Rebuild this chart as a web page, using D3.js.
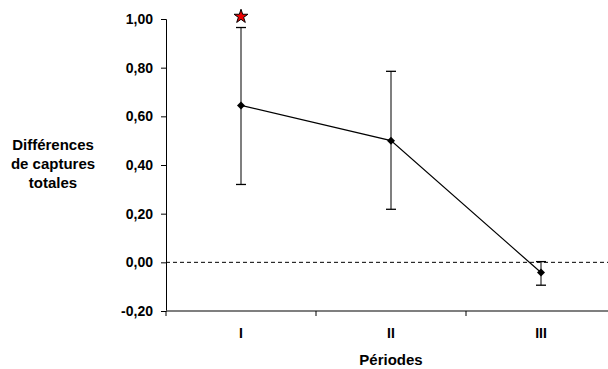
<!DOCTYPE html>
<html lang="fr">
<head>
<meta charset="utf-8">
<title></title>
<style>
  body { margin: 0; background: #fff; }
  text { font-family: Arial, "Liberation Sans", sans-serif; font-weight: bold; }
</style>
<script src="https://d3js.org/d3.v7.min.js"></script>
</head>
<body>
<svg id="chart" width="608" height="369"></svg>
<script>
// data
var periods = ["I", "II", "III"];
var means = [0.645, 0.50, -0.042];
var upper = [0.965, 0.785, 0.003];
var lower = [0.32, 0.218, -0.094];
var signif = [true, false, false];
var yTicks = [-0.2, 0, 0.2, 0.4, 0.6, 0.8, 1.0];

var svg = d3.select("#chart");

var x = d3.scaleBand().domain(periods).range([166, 616]);
var y = d3.scaleLinear().domain([-0.2, 1.0]).range([311, 19]);

var fmt = function(d) { return d3.format(".2f")(d).replace(".", ",").replace("−", "-"); };

// y axis
var yAxis = svg.append("g")
  .attr("transform", "translate(166,0)")
  .call(d3.axisLeft(y).tickValues(yTicks).tickFormat(fmt).tickSize(5).tickPadding(8));
yAxis.selectAll("text").style("font-size", "14px").attr("fill", "#000");
yAxis.selectAll("line").attr("stroke", "#000");
yAxis.select(".domain").attr("stroke", "#000");

// x axis
var xAxis = svg.append("g")
  .attr("transform", "translate(0,311)")
  .call(d3.axisBottom(x).tickSize(0).tickPadding(17));
xAxis.select(".domain").remove();
xAxis.selectAll("text").style("font-size", "14px").attr("fill", "#000");
svg.append("line").attr("x1", 166).attr("x2", 608).attr("y1", 311).attr("y2", 311)
  .attr("stroke", "#555").attr("stroke-width", 1.5);
// category boundaries
svg.selectAll(".sep").data(periods).enter().append("line")
  .attr("x1", function(d) { return x(d); }).attr("x2", function(d) { return x(d); })
  .attr("y1", 311).attr("y2", 316).attr("stroke", "#000");

// zero reference line
svg.append("line").attr("x1", 166).attr("x2", 608)
  .attr("y1", y(0)).attr("y2", y(0))
  .attr("stroke", "#000").attr("stroke-dasharray", "4,3");

var cx = function(i) { return x(periods[i]) + x.bandwidth() / 2; };

// error bars
var idx = d3.range(periods.length);
svg.selectAll(".err").data(idx).enter().append("line")
  .attr("x1", cx).attr("x2", cx)
  .attr("y1", function(i) { return y(upper[i]); })
  .attr("y2", function(i) { return y(lower[i]); })
  .attr("stroke", "#555").attr("stroke-width", 1.5);
[upper, lower].forEach(function(arr) {
  svg.selectAll(null).data(idx).enter().append("line")
    .attr("x1", function(i) { return cx(i) - 5; })
    .attr("x2", function(i) { return cx(i) + 5; })
    .attr("y1", function(i) { return y(arr[i]); })
    .attr("y2", function(i) { return y(arr[i]); })
    .attr("stroke", "#000").attr("stroke-width", 1.3);
});

// mean line
svg.append("path")
  .datum(idx)
  .attr("fill", "none").attr("stroke", "#000").attr("stroke-width", 1.2)
  .attr("d", d3.line().x(cx).y(function(i) { return y(means[i]); }));

// diamond markers
svg.selectAll(".pt").data(idx).enter().append("path")
  .attr("transform", function(i) { return "translate(" + cx(i) + "," + y(means[i]) + ")"; })
  .attr("d", "M0,-4L4,0L0,4L-4,0Z")
  .attr("fill", "#000");

// significance stars
svg.selectAll(".star").data(idx.filter(function(i) { return signif[i]; })).enter().append("path")
  .attr("transform", function(i) { return "translate(" + cx(i) + "," + (y(upper[i]) - 11) + ")"; })
  .attr("d", d3.symbol().type(d3.symbolStar).size(60))
  .attr("fill", "#e00").attr("stroke", "#000").attr("stroke-width", 1);

// axis titles
svg.append("text").attr("x", 391).attr("y", 365).attr("text-anchor", "middle")
  .style("font-size", "15px").text("Périodes");
var yt = svg.append("text").attr("text-anchor", "middle").style("font-size", "15px");
["Différences", "de captures", "totales"].forEach(function(s, k) {
  yt.append("tspan").attr("x", 53).attr("y", 150 + k * 19).text(s);
});
</script>
</body>
</html>
